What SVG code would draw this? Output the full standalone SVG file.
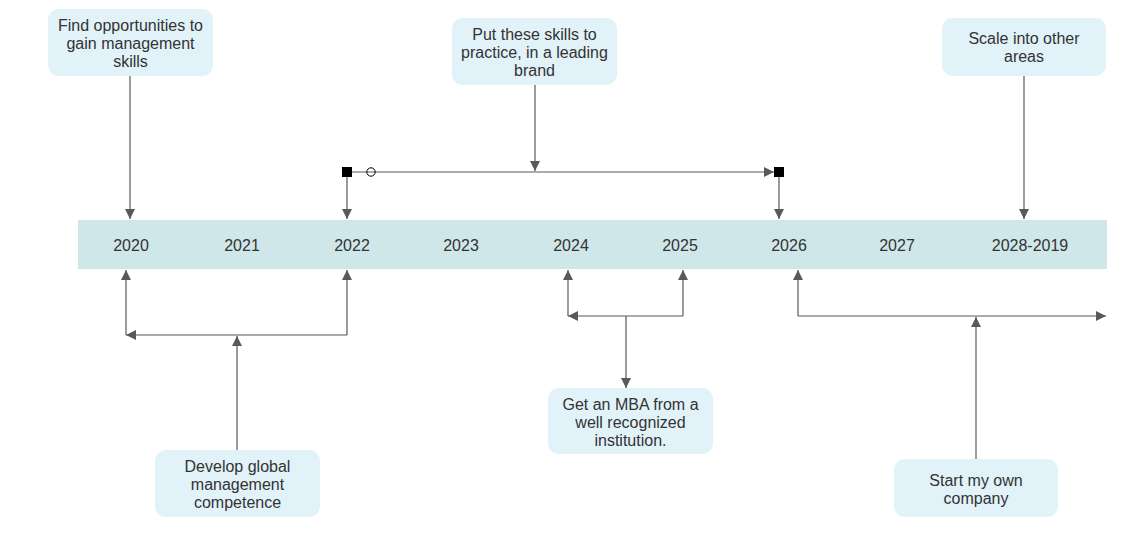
<svg xmlns="http://www.w3.org/2000/svg" width="1136" height="534" viewBox="0 0 1136 534">
<style>
.box{fill:#e1f2f9;stroke:none}
.t{font-family:"Liberation Sans",Arial,sans-serif;font-size:16px;fill:#333333;text-anchor:middle}
.c{fill:none;stroke:#595959;stroke-width:1.2}
.a{marker-end:url(#arr)}
</style>
<defs>
<marker id="arr" markerUnits="userSpaceOnUse" markerWidth="10" markerHeight="10" refX="10" refY="5" viewBox="0 0 10 10" orient="auto">
<path d="M0,0 L10,5 L0,10 Z" fill="#595959"/>
</marker>
</defs>
<rect width="1136" height="534" fill="#ffffff"/>
<g id="timeline">
<rect x="78" y="220" width="1029" height="49" fill="#cfe7e9"/>
<text class="t" x="131" y="250.5">2020</text>
<text class="t" x="242" y="250.5">2021</text>
<text class="t" x="352" y="250.5">2022</text>
<text class="t" x="461" y="250.5">2023</text>
<text class="t" x="571" y="250.5">2024</text>
<text class="t" x="680" y="250.5">2025</text>
<text class="t" x="789" y="250.5">2026</text>
<text class="t" x="897" y="250.5">2027</text>
<text class="t" x="1030" y="250.5">2028-2019</text>
</g>
<g id="n1">
<rect class="box" x="48" y="9" width="165" height="67" rx="11"/>
<text class="t" x="130.5" y="30.5">Find opportunities to</text>
<text class="t" x="130.5" y="48.5">gain management</text>
<text class="t" x="130.5" y="66.5">skills</text>
</g>
<g id="n2">
<rect class="box" x="452" y="18" width="165" height="67" rx="11"/>
<text class="t" x="534.5" y="39.5">Put these skills to</text>
<text class="t" x="534.5" y="57.5">practice, in a leading</text>
<text class="t" x="534.5" y="75.5">brand</text>
</g>
<g id="n3">
<rect class="box" x="942" y="18" width="164" height="58" rx="11"/>
<text class="t" x="1024" y="43.5">Scale into other</text>
<text class="t" x="1024" y="61.5">areas</text>
</g>
<g id="n4">
<rect class="box" x="155" y="450" width="165" height="67" rx="11"/>
<text class="t" x="237.5" y="471.5">Develop global</text>
<text class="t" x="237.5" y="489.5">management</text>
<text class="t" x="237.5" y="507.5">competence</text>
</g>
<g id="n5">
<rect class="box" x="548" y="388" width="165" height="66" rx="11"/>
<text class="t" x="630.5" y="409.5">Get an MBA from a</text>
<text class="t" x="630.5" y="427.5">well recognized</text>
<text class="t" x="630.5" y="445.5">institution.</text>
</g>
<g id="n6">
<rect class="box" x="894" y="459" width="164" height="58" rx="11"/>
<text class="t" x="976" y="485.5">Start my own</text>
<text class="t" x="976" y="503.5">company</text>
</g>
<g id="connectors">
<path class="c a" d="M130,76 V219"/>
<path class="c a" d="M535,85 V171"/>
<path class="c a" d="M352,172 H774"/>
<circle cx="371" cy="172" r="4.2" fill="none" stroke="#000" stroke-width="1"/>
<rect x="342" y="167" width="10" height="10" fill="#000"/>
<rect x="774" y="167" width="10" height="10" fill="#000"/>
<path class="c a" d="M347,177 V219"/>
<path class="c a" d="M779,177 V219"/>
<path class="c a" d="M1024,76 V219"/>
<path class="c a" d="M237,450 V336"/>
<path class="c a" d="M347,335 H126"/>
<path class="c a" d="M126,335 V270"/>
<path class="c a" d="M347,335 V270"/>
<path class="c a" d="M683,316 H568"/>
<path class="c a" d="M568,316 V270"/>
<path class="c a" d="M683,316 V270"/>
<path class="c a" d="M626,316 V388"/>
<path class="c a" d="M798,316 H1106"/>
<path class="c a" d="M798,316 V270"/>
<path class="c a" d="M976,459 V317"/>
</g>
</svg>
